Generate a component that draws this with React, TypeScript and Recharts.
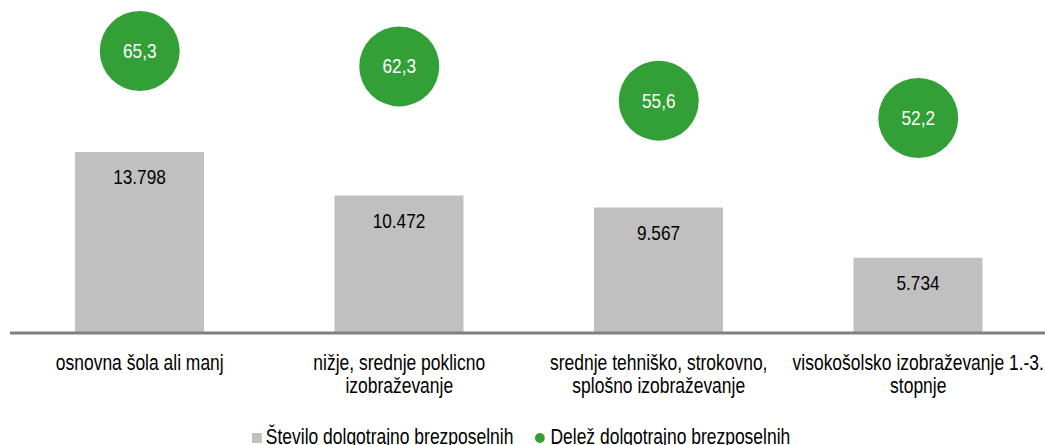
import React from 'react';
import { ComposedChart, Bar, Scatter, XAxis, YAxis, Legend, LabelList } from 'recharts';

const categories = [
  'osnovna šola ali manj',
  'nižje, srednje poklicno izobraževanje',
  'srednje tehniško, strokovno, splošno izobraževanje',
  'visokošolsko izobraževanje 1.-3. stopnje',
];
const longTermCounts = [13798, 10472, 9567, 5734];
const longTermShares = [65.3, 62.3, 55.6, 52.2];

const data = categories.map((category, i) => ({
  category,
  count: longTermCounts[i],
  share: longTermShares[i],
}));

// no narrow font available, so squeeze Liberation Sans horizontally
const FONT = '"Liberation Sans", Arial, sans-serif';
const SQUEEZE = 0.82;
const GREY = '#c0c0c0';
const GREEN = '#33a037';
const TICK_SIZE = 21.3;

let ctx: CanvasRenderingContext2D | null = null;
function wrapWords(label: string, maxWidth: number) {
  if (!ctx) ctx = document.createElement('canvas').getContext('2d');
  ctx!.font = `${TICK_SIZE}px ${FONT}`;
  const lines: string[] = [];
  let line = '';
  for (const word of label.split(' ')) {
    const test = line ? line + ' ' + word : word;
    if (line && ctx!.measureText(test).width > maxWidth) {
      lines.push(line);
      line = word;
    } else {
      line = test;
    }
  }
  if (line) lines.push(line);
  return lines;
}

const CategoryTick = (props: any) => {
  const { x, y, payload } = props;
  const lines = wrapWords(payload.value, 258 / SQUEEZE);
  return (
    <g transform={`translate(${x},${y + 13}) scale(${SQUEEZE},1)`}>
      <text textAnchor="middle" fill="#000" style={{ fontFamily: FONT, fontSize: TICK_SIZE }}>
        {lines.map((l, i) => (
          <tspan key={i} x={0} dy={i === 0 ? '0.75em' : 23}>
            {l}
          </tspan>
        ))}
      </text>
    </g>
  );
};

const BarValue = (props: any) => {
  const { x, y, width, value } = props;
  return (
    <g transform={`translate(${x + width / 2},${y + 25}) scale(${SQUEEZE},1)`}>
      <text
        x={0}
        y={0}
        textAnchor="middle"
        dominantBaseline="central"
        fill="#000"
        style={{ fontFamily: FONT, fontSize: 21 }}
      >
        {Number(value).toLocaleString('de-DE')}
      </text>
    </g>
  );
};

const ShareBubble = (props: any) => {
  const { cx, cy, payload } = props;
  return (
    <g>
      <circle cx={cx} cy={cy} r={40} fill={GREEN} />
      <g transform={`translate(${cx},${cy}) scale(${SQUEEZE},1)`}>
        <text
          x={0}
          y={0}
          textAnchor="middle"
          dominantBaseline="central"
          fill="#fff"
          style={{ fontFamily: FONT, fontSize: 21 }}
        >
          {payload.share.toFixed(1).replace('.', ',')}
        </text>
      </g>
    </g>
  );
};

const LegendBox = () => (
  <div
    style={{
      position: 'relative',
      left: -8,
      display: 'flex',
      justifyContent: 'center',
      alignItems: 'center',
      paddingTop: 12,
      fontFamily: FONT,
      fontSize: 21.3,
      color: '#000',
      transform: `scaleX(${SQUEEZE})`,
      transformOrigin: 'center',
      whiteSpace: 'nowrap',
    }}
  >
    <span style={{ display: 'inline-block', width: 12.2, height: 10, background: GREY, marginRight: 5 }} />
    <span style={{ marginRight: 26 }}>Število dolgotrajno brezposelnih</span>
    <span style={{ display: 'inline-block', width: 12.2, height: 10, borderRadius: '50%', background: GREEN, marginRight: 7 }} />
    <span>Delež dolgotrajno brezposelnih</span>
  </div>
);

export default function App() {
  return (
    <div style={{ position: 'absolute', left: 0, top: 0, width: 1045, height: 445, overflow: 'hidden', background: '#fff' }}>
      <ComposedChart width={1050} height={445} data={data} margin={{ top: 5, right: 2, left: 10, bottom: 0 }}>
        <XAxis
          dataKey="category"
          height={80}
          interval={0}
          tickLine={false}
          axisLine={{ stroke: '#808080', strokeWidth: 3 }}
          tick={<CategoryTick />}
        />
        <YAxis yAxisId="left" hide domain={[0, 25000]} />
        <YAxis yAxisId="right" orientation="right" hide domain={[10.17, 74.3]} />
        <Legend verticalAlign="bottom" height={32} content={<LegendBox />} />
        <Bar yAxisId="left" dataKey="count" fill={GREY} barSize={129} isAnimationActive={false}>
          <LabelList dataKey="count" content={<BarValue />} />
        </Bar>
        <Scatter yAxisId="right" dataKey="share" fill={GREEN} shape={<ShareBubble />} isAnimationActive={false} />
      </ComposedChart>
    </div>
  );
}
